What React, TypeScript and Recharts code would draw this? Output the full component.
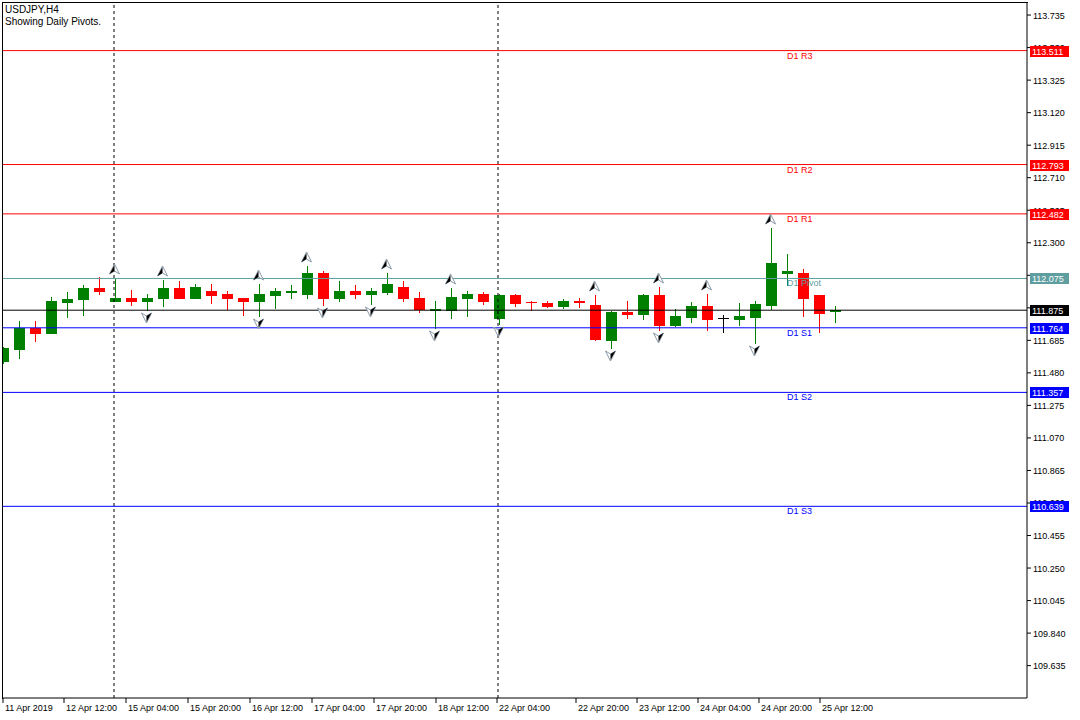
import React from "react"
import { ComposedChart, Bar, Scatter, XAxis, YAxis, ReferenceLine } from "recharts"

// H4 candles, index 0 = leftmost (partly cut) bar
const opens = [
  111.553, 111.628, 111.760, 111.729, 111.924, 111.943, 112.018, 111.936, 111.955, 111.930,
  111.949, 112.018, 111.955, 111.999, 111.974, 111.955, 111.930, 111.968, 111.992, 111.974,
  112.112, 111.949, 111.999, 111.974, 111.987, 112.024, 111.955, 111.879, 111.874, 111.949,
  111.980, 111.823, 111.968, 111.926, 111.918, 111.899, 111.931, 111.905, 111.685, 111.861,
  111.848, 111.968, 111.779, 111.829, 111.899, 111.823, 111.817, 111.829, 111.905, 112.112,
  112.112, 111.968, 111.867,
]
const highs = [
  111.640, 111.804, 111.810, 111.961, 111.987, 112.031, 112.087, 112.081, 112.005, 111.974,
  112.068, 112.062, 112.043, 112.037, 111.999, 111.955, 112.037, 112.012, 112.031, 112.156,
  112.119, 112.056, 112.031, 112.012, 112.112, 112.062, 111.987, 111.930, 112.018, 111.993,
  111.987, 111.980, 111.974, 111.936, 111.936, 111.943, 111.949, 111.968, 111.867, 111.930,
  111.980, 112.024, 111.880, 111.924, 111.974, 111.842, 111.918, 111.930, 112.395, 112.232,
  112.137, 111.968, 111.899,
]
const lows = [
  111.545, 111.571, 111.678, 111.729, 111.829, 111.842, 111.980, 111.930, 111.905, 111.874,
  111.899, 111.949, 111.955, 111.918, 111.880, 111.842, 111.836, 111.886, 111.949, 111.955,
  111.905, 111.936, 111.949, 111.911, 111.974, 111.936, 111.861, 111.761, 111.823, 111.836,
  111.911, 111.785, 111.899, 111.874, 111.893, 111.886, 111.893, 111.685, 111.634, 111.823,
  111.817, 111.748, 111.773, 111.798, 111.748, 111.735, 111.779, 111.666, 111.880, 112.031,
  111.836, 111.735, 111.798,
]
const closes = [
  111.634, 111.760, 111.729, 111.930, 111.943, 112.018, 111.993, 111.955, 111.930, 111.955,
  112.018, 111.955, 112.024, 111.968, 111.949, 111.930, 111.980, 111.999, 111.994, 112.112,
  111.955, 111.999, 111.974, 111.993, 112.043, 111.949, 111.880, 111.881, 111.961, 111.980,
  111.936, 111.968, 111.918, 111.924, 111.899, 111.930, 111.929, 111.691, 111.861, 111.848,
  111.968, 111.779, 111.836, 111.899, 111.817, 111.823, 111.836, 111.911, 112.175, 112.119,
  111.955, 111.855, 111.875,
]

// fractal bars (indexes)
const upFractals = [7, 10, 16, 19, 24, 28, 37, 41, 44, 48]
const downFractals = [9, 16, 20, 23, 27, 31, 38, 41, 47]

// period separators (Monday 00:00 bars)
const separators = [7, 31]

const xTickPos = [0.0625, 3.875, 7.75, 11.625, 15.5, 19.375, 23.25, 27.125, 30.94, 35.875, 39.69, 43.5, 47.31, 51.125]
const xTickLabels = [
  "11 Apr 2019", "12 Apr 12:00", "15 Apr 04:00", "15 Apr 20:00", "16 Apr 12:00", "17 Apr 04:00",
  "17 Apr 20:00", "18 Apr 12:00", "22 Apr 04:00", "22 Apr 20:00", "23 Apr 12:00", "24 Apr 04:00",
  "24 Apr 20:00", "25 Apr 12:00",
]

const yTicks = [
  113.735, 113.530, 113.325, 113.120, 112.915, 112.710, 112.505, 112.300, 112.095, 111.890,
  111.685, 111.480, 111.275, 111.070, 110.865, 110.660, 110.455, 110.250, 110.045, 109.840, 109.635,
]

const pivotNames = ["D1 R3", "D1 R2", "D1 R1", "D1 Pivot", "D1 S1", "D1 S2", "D1 S3"]
const pivotValues = [113.511, 112.793, 112.482, 112.075, 111.764, 111.357, 110.639]
const lastPrice = 111.875

const pivotColors = ["#ff0000", "#ff0000", "#ff0000", "#5f9ea0", "#0000ff", "#0000ff", "#0000ff"]
const GREEN = "#008000"
const RED = "#ff0000"
const FONT = "'Liberation Sans', Arial, sans-serif"
const Y_DOMAIN = [109.431, 113.811]

const candles = opens.map((o, k) => ({ k, open: o, high: highs[k], low: lows[k], close: closes[k] }))
const upData = upFractals.map(k => ({ k, high: highs[k] }))
const downData = downFractals.map(k => ({ k, low: lows[k] }))
const boxTicks = [...pivotValues, lastPrice]

function Candle(props: any) {
  const { x, y, width, height, payload } = props
  if (height == null || !payload) return null
  const { open, high, low, close } = payload
  const cx = Math.round(x + width / 2)
  const unit = height / (high - low)
  const yO = y + (high - open) * unit
  const yC = y + (high - close) * unit
  const color = close > open ? GREEN : close < open ? RED : "#000"
  const top = Math.round(Math.min(yO, yC))
  const bot = Math.round(Math.max(yO, yC))
  return (
    <g shapeRendering="crispEdges">
      <line x1={cx + 0.5} x2={cx + 0.5} y1={Math.round(y)} y2={Math.round(y + height) + 1} stroke={color} />
      {bot - top < 1
        ? <line x1={cx - 5} x2={cx + 6} y1={top + 0.5} y2={top + 0.5} stroke={color} />
        : <rect x={cx - 5} y={top} width={11} height={bot - top + 1} fill={color} />}
    </g>
  )
}

function UpArrow({ cx, cy }: any) {
  const c = Math.round(cx) + 0.5
  const t = Math.round(cy) - 14
  return (
    <g>
      <path d={`M${c},${t} L${c + 5},${t + 10} L${c},${t + 7} L${c - 5},${t + 10} Z`} fill="#fff" stroke="#8a9aa8" strokeWidth={1} />
      <path d={`M${c},${t + 1} L${c},${t + 7} L${c - 5},${t + 10} Z`} fill="#000" />
    </g>
  )
}

function DownArrow({ cx, cy }: any) {
  const c = Math.round(cx) + 0.5
  const b = Math.round(cy) + 13
  return (
    <g>
      <path d={`M${c},${b} L${c - 5},${b - 10} L${c},${b - 7} L${c + 5},${b - 10} Z`} fill="#fff" stroke="#8a9aa8" strokeWidth={1} />
      <path d={`M${c},${b - 1} L${c},${b - 7} L${c + 5},${b - 10} Z`} fill="#000" />
    </g>
  )
}

function PivotName({ viewBox, name, color }: any) {
  if (!viewBox) return null
  const { x, y } = viewBox
  return (
    <text x={x + 784} y={Math.round(y) + 8} fill={color} fontFamily={FONT} fontSize={9}>{name}</text>
  )
}

// coloured price boxes, drawn by a second right axis so they sit over the scale labels
function BoxTick({ x, y, payload }: any) {
  const v = payload.value
  const i = pivotValues.indexOf(v)
  const color = i >= 0 ? pivotColors[i] : "#000"
  const left = x - 49
  const cy = Math.round(y)
  return (
    <g fontFamily={FONT} fontSize={9}>
      <rect x={left} y={cy - 5} width={39} height={11} fill={color} />
      <text x={left + 2} y={cy + 4} fill="#fff">{v.toFixed(3)}</text>
    </g>
  )
}

function YTick({ x, y, payload }: any) {
  return (
    <text x={x} y={y + 3.5} fontFamily={FONT} fontSize={9} fill="#000" textAnchor="start">
      {payload.value.toFixed(3)}
    </text>
  )
}

function XTick({ x, y, payload }: any) {
  const i = xTickPos.indexOf(payload.value)
  return (
    <text x={x + 2} y={y + 8} fontFamily={FONT} fontSize={9} fill="#000" textAnchor="start">
      {xTickLabels[i]}
    </text>
  )
}

export default function App() {
  return (
    <div style={{ position: "absolute", left: 0, top: 0, width: 1080, height: 720, background: "#fff" }}>
      <ComposedChart
        width={1080}
        height={720}
        data={candles}
        margin={{ top: 3, right: 0, bottom: 0, left: 3 }}
      >
        <XAxis
          dataKey="k"
          type="number"
          domain={[0.0625, 64.0625]}
          allowDataOverflow
          ticks={xTickPos}
          interval={0}
          height={22}
          tickSize={5}
          tickMargin={0}
          axisLine={{ stroke: "#000" }}
          tickLine={{ stroke: "#000" }}
          tick={<XTick />}
        />
        <YAxis
          orientation="right"
          type="number"
          domain={Y_DOMAIN}
          allowDataOverflow
          ticks={yTicks}
          interval={0}
          width={52}
          tickSize={4}
          tickMargin={2}
          axisLine={{ stroke: "#000" }}
          tickLine={{ stroke: "#000" }}
          tick={<YTick />}
        />
        <YAxis
          yAxisId="box"
          orientation="right"
          type="number"
          domain={Y_DOMAIN}
          allowDataOverflow
          ticks={boxTicks}
          interval={0}
          width={1}
          tickSize={0}
          tickMargin={0}
          axisLine={false}
          tickLine={false}
          tick={<BoxTick />}
        />
        {separators.map(k => (
          <ReferenceLine key={"sep" + k} x={k} stroke="#000" strokeDasharray="3 3" />
        ))}
        {pivotValues.map((v, i) => (
          <ReferenceLine
            key={pivotNames[i]}
            y={v}
            stroke={pivotColors[i]}
            label={<PivotName name={pivotNames[i]} color={pivotColors[i]} />}
          />
        ))}
        <ReferenceLine yAxisId="box" y={lastPrice} stroke="#000" />
        <Bar dataKey={(d: any) => [d.low, d.high]} barSize={11} shape={<Candle />} isAnimationActive={false} />
        <Scatter data={upData} dataKey="high" shape={<UpArrow />} isAnimationActive={false} />
        <Scatter data={downData} dataKey="low" shape={<DownArrow />} isAnimationActive={false} />
      </ComposedChart>
      <div style={{ position: "absolute", left: 2, top: 2, width: 1025, height: 696, borderLeft: "1px solid #000", borderTop: "1px solid #000", pointerEvents: "none" }} />
      <div style={{ position: "absolute", left: 5, top: 4, fontFamily: FONT, fontSize: 10, lineHeight: "12px", color: "#000" }}>
        <div>USDJPY,H4</div>
        <div>Showing Daily Pivots.</div>
      </div>
    </div>
  )
}
